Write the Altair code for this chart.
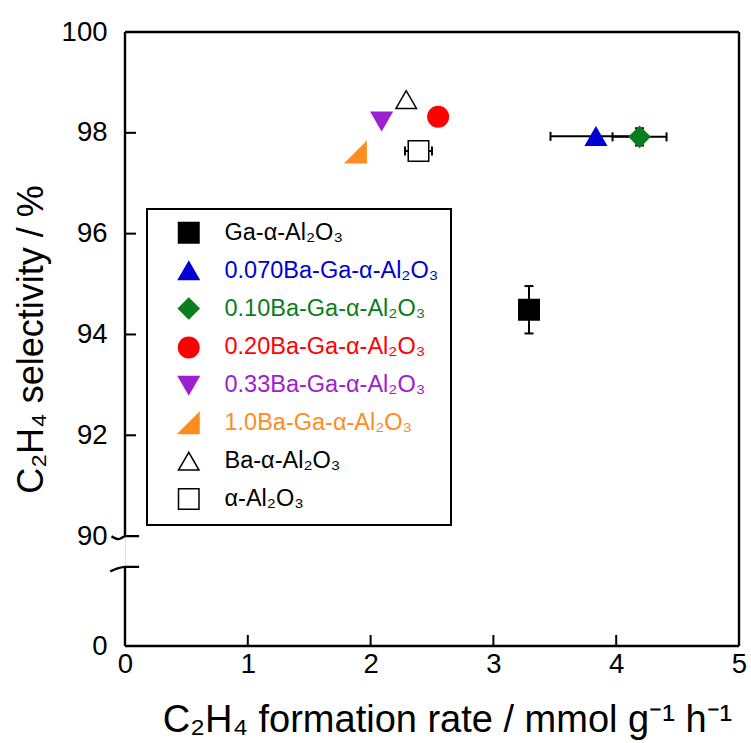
import json
import altair as alt
import pandas as pd

# ---------------- data ----------------
series = ["Ga-α-Al₂O₃", "0.070Ba-Ga-α-Al₂O₃", "0.10Ba-Ga-α-Al₂O₃", "0.20Ba-Ga-α-Al₂O₃",
          "0.33Ba-Ga-α-Al₂O₃", "1.0Ba-Ga-α-Al₂O₃", "Ba-α-Al₂O₃", "α-Al₂O₃"]
rate = [3.29, 3.835, 4.19, 2.55, 2.09, 1.88, 2.29, 2.39]
sel = [94.49, 97.93, 97.92, 98.32, 98.23, 97.61, 98.66, 97.64]
rate_err = [0.0, 0.37, 0.22, 0.0, 0.0, 0.0, 0.0, 0.11]
sel_err = [0.47, 0.0, 0.17, 0.0, 0.0, 0.0, 0.0, 0.0]

shapes = ["square", "triangle-up", "diamond", "circle", "triangle-down",
          "M1,-1L1,1L-1,1Z", "triangle-up", "square"]
fills = ["#000000", "#0000d0", "#0a7d1e", "#ff0000", "#9b20d0", "#ff8c1e", "#ffffff", "#ffffff"]
strokes = ["#000000", "#0000d0", "#0a7d1e", "#ff0000", "#9b20d0", "#ff8c1e", "#000000", "#000000"]

x_ticks = [0, 1, 2, 3, 4, 5]
y_ticks = [87.82, 90, 92, 94, 96, 98, 100]
x_inner_ticks = [1, 2, 3, 4]
y_inner_ticks = [92, 94, 96, 98]

# frame segments (axis lines, with the break on the left)
frame_x = [0, 0, 0, 5, 0]
frame_x2 = [0, 0, 5, 5, 5]
frame_y = [90, 87.82, 87.82, 87.82, 100]
frame_y2 = [100, 89.39, 87.82, 100, 100]

# axis-break squiggles
brk_id = ["a", "a", "a", "a", "b", "b", "b", "b"]
brk_x = [-0.11, -0.05, 0.005, 0.115, -0.12, -0.06, 0.005, 0.115]
brk_y = [89.995, 89.94, 90.0, 90.0, 89.30, 89.36, 89.39, 89.39]

XDOM = [0, 5]
YDOM = [87.82, 100]

pts = pd.DataFrame({"series": series, "rate": rate, "sel": sel,
                    "rate_err": rate_err, "sel_err": sel_err})
pts["x_lo"] = pts["rate"] - pts["rate_err"]
pts["x_hi"] = pts["rate"] + pts["rate_err"]
pts["y_lo"] = pts["sel"] - pts["sel_err"]
pts["y_hi"] = pts["sel"] + pts["sel_err"]
xerr = pts[pts["rate_err"] > 0]
yerr = pts[pts["sel_err"] > 0]

frame = pd.DataFrame({"x": frame_x, "x2": frame_x2, "y": frame_y, "y2": frame_y2})
brk = pd.DataFrame({"id": brk_id, "x": brk_x, "y": brk_y})
xt = pd.DataFrame({"v": x_inner_ticks})
yt = pd.DataFrame({"v": y_inner_ticks})

xs = alt.Scale(domain=XDOM, nice=False, zero=False)
ys = alt.Scale(domain=YDOM, nice=False, zero=False)

FONT = "Liberation Sans"

label_colors = "{}[indexof({}, datum.value)]".format(
    json.dumps(strokes), json.dumps(series, ensure_ascii=False))

legend = alt.Legend(
    orient="none", legendX=22, legendY=177, title=None,
    padding=12, symbolOffset=18, labelOffset=24, rowPadding=11.9,
    labelFontSize=23.5, labelFont=FONT, labelLimit=500,
    labelColor=alt.ExprRef(expr=label_colors),
    symbolSize=420, symbolStrokeWidth=1.5, strokeColor="black",
)

x_axis = alt.Axis(
    title="C₂H₄ formation rate / mmol g⁻¹ h⁻¹", values=x_ticks, format="d",
    domain=False, ticks=False, tickSize=0, grid=False,
    labelFontSize=27.5, labelFont=FONT, labelColor="black", labelPadding=4,
    labelFlush=False, labelOverlap=False,
    titleFont=FONT, titleFontSize=38, titleFontWeight="normal", titleColor="black",
    titleX=322, titleY=74, titleBaseline="middle", titleAlign="center",
)
y_axis = alt.Axis(
    title="C₂H₄ selectivity / %", values=y_ticks,
    labelExpr="datum.value < 89 ? '0' : format(datum.value, 'd')",
    domain=False, ticks=False, tickSize=0, grid=False,
    labelFontSize=27.5, labelFont=FONT, labelColor="black", labelPadding=18,
    labelFlush=False, labelOverlap=False,
    titleFont=FONT, titleFontSize=36, titleFontWeight="normal", titleColor="black",
    titleX=-94, titleY=307, titleAngle=270, titleBaseline="middle", titleAlign="center",
)


def X(field):
    return alt.X(field, scale=xs, axis=x_axis)


def Y(field):
    return alt.Y(field, scale=ys, axis=y_axis)


frame_layer = alt.Chart(frame).mark_rule(color="black", strokeWidth=2.4).encode(
    x=X("x:Q"), x2="x2:Q", y=Y("y:Q"), y2="y2:Q",
)

brk_layer = alt.Chart(brk).mark_line(color="black", strokeWidth=2.4, interpolate="monotone").encode(
    x=X("x:Q"), y=Y("y:Q"), detail="id:N",
)

ytick_layer = alt.Chart(yt).mark_rule(color="black", strokeWidth=2).encode(
    y=Y("v:Q"), x=alt.value(0), x2=alt.value(11),
)
xtick_layer = alt.Chart(xt).mark_rule(color="black", strokeWidth=2).encode(
    x=X("v:Q"), y=alt.value(614), y2=alt.value(603),
)

xerr_bar = alt.Chart(xerr).mark_rule(color="black", strokeWidth=2).encode(
    x=X("x_lo:Q"), x2="x_hi:Q", y=Y("sel:Q"),
)
xerr_lo = alt.Chart(xerr).mark_tick(color="black", thickness=2, size=9, orient="vertical", opacity=1).encode(
    x=X("x_lo:Q"), y=Y("sel:Q"))
xerr_hi = alt.Chart(xerr).mark_tick(color="black", thickness=2, size=9, orient="vertical", opacity=1).encode(
    x=X("x_hi:Q"), y=Y("sel:Q"))

yerr_bar = alt.Chart(yerr).mark_rule(color="black", strokeWidth=2).encode(
    x=X("rate:Q"), y=Y("y_lo:Q"), y2="y_hi:Q",
)
yerr_lo = alt.Chart(yerr).mark_tick(color="black", thickness=2, size=9, orient="horizontal", opacity=1).encode(
    x=X("rate:Q"), y=Y("y_lo:Q"))
yerr_hi = alt.Chart(yerr).mark_tick(color="black", thickness=2, size=9, orient="horizontal", opacity=1).encode(
    x=X("rate:Q"), y=Y("y_hi:Q"))

point_layer = alt.Chart(pts).mark_point(filled=True, opacity=1, size=420, strokeWidth=1.5).encode(
    x=X("rate:Q"),
    y=Y("sel:Q"),
    shape=alt.Shape("series:N", scale=alt.Scale(domain=series, range=shapes), legend=legend),
    fill=alt.Fill("series:N", scale=alt.Scale(domain=series, range=fills), legend=legend),
    stroke=alt.Stroke("series:N", scale=alt.Scale(domain=series, range=strokes), legend=legend),
)

chart = alt.layer(
    frame_layer, brk_layer, ytick_layer, xtick_layer,
    xerr_bar, xerr_lo, xerr_hi, yerr_bar, yerr_lo, yerr_hi, point_layer,
).properties(
    width=614, height=614,
    padding={"left": 125, "top": 32, "right": 12, "bottom": 97},
    autosize=alt.AutoSizeParams(type="none"),
    background="white",
).configure_view(stroke=None).configure(font=FONT).configure_legend(strokeWidth=2)

chart.save("out.html", embed_options={"renderer": "svg", "actions": False})
